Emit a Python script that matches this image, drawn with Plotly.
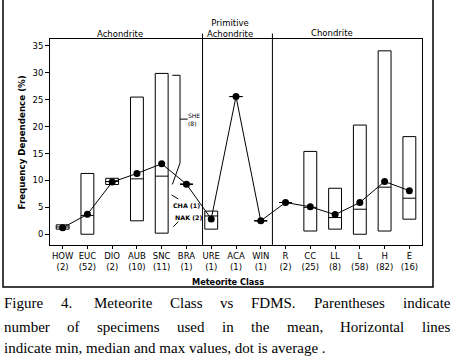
import plotly.graph_objects as go

# ---------------- data ----------------
categories = ["HOW", "EUC", "DIO", "AUB", "SNC", "BRA", "URE", "ACA",
              "WIN", "R", "CC", "LL", "L", "H", "E"]
counts = [2, 52, 2, 10, 11, 1, 1, 1, 1, 2, 25, 8, 58, 82, 16]
mean_vals = [1.2, 3.7, 9.7, 11.3, 13.1, 9.3, 2.85, 25.6, 2.5, 5.9, 5.1, 3.65, 5.9, 9.8, 8.1]
min_vals = [0.95, 0.0, 9.25, 2.5, 0.2, 9.3, 0.95, 25.6, 2.5, 5.9, 0.6, 0.95, 0.0, 0.6, 2.8]
median_vals = [1.35, 3.5, 9.8, 10.3, 10.8, 9.3, 3.4, 25.6, 2.5, 5.9, 5.0, 3.1, 4.65, 8.75, 6.7]
max_vals = [1.75, 11.3, 10.4, 25.5, 29.9, 9.3, 4.3, 25.6, 2.5, 5.9, 15.4, 8.55, 20.3, 34.1, 18.15]

y_ticks = [0, 5, 10, 15, 20, 25, 30, 35]
groups = ["Achondrite", "Primitive<br>Achondrite", "Chondrite"]
group_dividers = [5.65, 8.47]

# partially hidden SHE interval (bracket) next to SNC
she_x = [4.43, 4.74, 4.74, 4.43]
she_y = [29.55, 29.55, 13.25, 9.26]
she_label = "SHE<br>(8)"
cha_label = "CHA (1)"
nak_label = "NAK (2)"

caption_lines = [
    "Figure 4.  Meteorite Class vs FDMS. Parentheses indicate",
    "number of specimens used in the mean, Horizontal lines",
    "indicate min, median and max values, dot is average .",
]

# ---------------- layout geometry ----------------
W, H = 457, 362
L, R, T, B = 50, 422, 39, 245


def px(x):
    return (x - L) / (R - L)


def py(y):
    return (B - y) / (B - T)


FONT = "DejaVu Sans"
SERIF = "Liberation Serif"
CAP_SIZE = 15
half = 0.26

# Times metrics (per 1000 em) for justification of the caption
_tw = {' ': 250, '.': 250, ',': 250, '(': 333, ')': 333, '0': 500, '1': 500,
       '2': 500, '3': 500, '4': 500, '5': 500, '6': 500, '7': 500, '8': 500,
       '9': 500, 'A': 722, 'B': 667, 'C': 667, 'D': 722, 'E': 611, 'F': 556,
       'G': 722, 'H': 722, 'I': 333, 'J': 389, 'K': 722, 'L': 611, 'M': 889,
       'N': 722, 'O': 722, 'P': 556, 'Q': 722, 'R': 667, 'S': 556, 'T': 611,
       'U': 722, 'V': 722, 'W': 944, 'X': 722, 'Y': 722, 'Z': 611,
       'a': 444, 'b': 500, 'c': 444, 'd': 500, 'e': 444, 'f': 333, 'g': 500,
       'h': 500, 'i': 278, 'j': 278, 'k': 500, 'l': 278, 'm': 778, 'n': 500,
       'o': 500, 'p': 500, 'q': 500, 'r': 333, 's': 389, 't': 278, 'u': 500,
       'v': 500, 'w': 722, 'x': 500, 'y': 500, 'z': 444}


def text_w(s):
    return sum(_tw.get(ch, 500) for ch in s) * CAP_SIZE / 1000.0


fig = go.Figure()

# interval boxes (min / median / max)
for i, c in enumerate(categories):
    xs = [i - half, i + half, i + half, i - half, i - half]
    ys = [min_vals[i], min_vals[i], max_vals[i], max_vals[i], min_vals[i]]
    fig.add_trace(go.Scatter(x=xs, y=ys, mode="lines",
                             line=dict(color="black", width=1),
                             hoverinfo="skip", showlegend=False))
    fig.add_trace(go.Scatter(x=[i - half, i + half], y=[median_vals[i]] * 2,
                             mode="lines", line=dict(color="black", width=1),
                             hoverinfo="skip", showlegend=False))

# SHE bracket
fig.add_trace(go.Scatter(x=she_x, y=she_y, mode="lines",
                         line=dict(color="black", width=1),
                         hoverinfo="skip", showlegend=False))

# mean line + dots
fig.add_trace(go.Scatter(x=list(range(len(categories))), y=mean_vals,
                         mode="lines+markers",
                         line=dict(color="black", width=1),
                         marker=dict(color="black", size=7),
                         showlegend=False))

ticktext = [f"{c}<br>({n})" for c, n in zip(categories, counts)]

fig.update_xaxes(range=[-0.51, 14.51], tickvals=list(range(len(categories))),
                 ticktext=ticktext, showline=True, linecolor="black",
                 linewidth=1, mirror=True, ticks="outside", ticklen=3,
                 tickcolor="black", showgrid=False, zeroline=False,
                 tickfont=dict(family=FONT, size=8.5, color="black"))
fig.update_yaxes(range=[-2.0, 36.3], tickvals=y_ticks, showline=True,
                 linecolor="black", linewidth=1, mirror=True, ticks="outside",
                 ticklen=4, tickcolor="black", showgrid=False, zeroline=False,
                 tickfont=dict(family=FONT, size=8.5, color="black"))

shapes = []
# group dividers, extending slightly above plot
for d in group_dividers:
    shapes.append(dict(type="line", xref="x", yref="paper", x0=d, x1=d,
                       y0=0, y1=py(33.5), line=dict(color="black", width=1)))
# leader lines
shapes.append(dict(type="line", xref="x", yref="y", x0=4.74, x1=5.05,
                   y0=21.4, y1=21.4, line=dict(color="black", width=1)))
shapes.append(dict(type="line", xref="x", yref="y", x0=4.40, x1=4.67,
                   y0=7.30, y1=6.56, line=dict(color="black", width=1)))
shapes.append(dict(type="line", xref="x", yref="y", x0=4.47, x1=4.67,
                   y0=1.41, y1=2.34, line=dict(color="black", width=1)))
# outer frame
shapes.append(dict(type="rect", xref="paper", yref="paper",
                   x0=px(3), x1=px(433), y0=py(287), y1=py(-2),
                   line=dict(color="black", width=1.5)))

ann = []
# group labels
ann.append(dict(text=groups[0], x=px(120), y=py(34), xref="paper", yref="paper",
                showarrow=False, xanchor="center", yanchor="middle",
                font=dict(family=FONT, size=8.5, color="black")))
ann.append(dict(text=groups[1], x=px(230), y=py(28), xref="paper", yref="paper",
                showarrow=False, xanchor="center", yanchor="middle",
                font=dict(family=FONT, size=8.5, color="black")))
ann.append(dict(text=groups[2], x=px(332), y=py(33.5), xref="paper", yref="paper",
                showarrow=False, xanchor="center", yanchor="middle",
                font=dict(family=FONT, size=8.5, color="black")))
# small labels
ann.append(dict(text=she_label, x=5.0, y=21.4, xref="x", yref="y",
                showarrow=False, xanchor="left", yanchor="middle", align="left",
                font=dict(family=FONT, size=6, color="black")))
ann.append(dict(text="<b>" + cha_label + "</b>", x=4.38, y=5.32, xref="x", yref="y",
                showarrow=False, xanchor="left", yanchor="middle",
                font=dict(family=FONT, size=6.3, color="black")))
ann.append(dict(text="<b>" + nak_label + "</b>", x=4.45, y=3.16, xref="x", yref="y",
                showarrow=False, xanchor="left", yanchor="middle",
                font=dict(family=FONT, size=6.3, color="black")))
# axis titles
ann.append(dict(text="<b>Meteorite Class</b>", x=px(227.5), y=py(281.5),
                xref="paper", yref="paper", showarrow=False,
                xanchor="center", yanchor="middle",
                font=dict(family=FONT, size=8.2, color="black")))
ann.append(dict(text="<b>Frequency Dependence (%)</b>", x=px(21.5), y=py(143),
                xref="paper", yref="paper", showarrow=False, textangle=-90,
                xanchor="center", yanchor="middle",
                font=dict(family=FONT, size=8.7, color="black")))

# caption: first two lines justified between x=3 and x=449, last line left
CAP_LEFT, CAP_RIGHT = 3, 449
for k, (line, yc) in enumerate(zip(caption_lines, [303.3, 326.7, 348.3])):
    if k < len(caption_lines) - 1:
        # split into words, keeping the double space after "4." as a wider gap
        words = line.split(" ")
        tokens = [w for w in words if w != ""]
        extra_sp = [0.0] * len(tokens)
        # count empty strings (extra spaces) to enlarge gaps
        ti = -1
        for w in words:
            if w == "":
                extra_sp[ti] += text_w(" ")
            else:
                ti += 1
        natural = sum(text_w(t) for t in tokens) + sum(extra_sp)
        gap = (CAP_RIGHT - CAP_LEFT - natural) / (len(tokens) - 1)
        x = CAP_LEFT
        for j, t in enumerate(tokens):
            ann.append(dict(text=t, x=px(x), y=py(yc), xref="paper", yref="paper",
                            showarrow=False, xanchor="left", yanchor="middle",
                            borderpad=0,
                            font=dict(family=SERIF, size=CAP_SIZE, color="black")))
            x += text_w(t) + gap + extra_sp[j]
    else:
        ann.append(dict(text=line, x=px(CAP_LEFT), y=py(yc), xref="paper",
                        yref="paper", showarrow=False, xanchor="left",
                        yanchor="middle", borderpad=0,
                        font=dict(family=SERIF, size=CAP_SIZE, color="black")))

fig.update_layout(width=W, height=H, margin=dict(l=L, r=W - R, t=T, b=H - B),
                  paper_bgcolor="white", plot_bgcolor="white",
                  shapes=shapes, annotations=ann, showlegend=False)

fig.write_html("out.html", config={"displayModeBar": False},
               post_script="document.body.style.margin='0';"
                           "document.body.style.overflow='hidden';")
